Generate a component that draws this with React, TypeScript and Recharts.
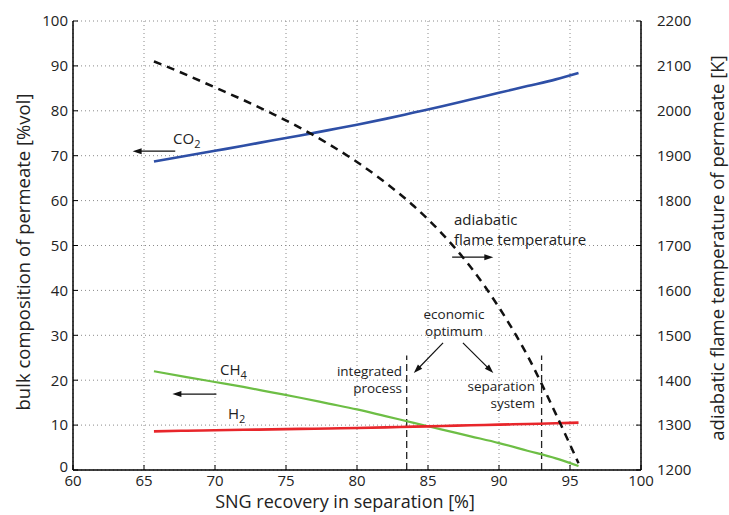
import React from 'react';
import { LineChart, Line, XAxis, YAxis, CartesianGrid, ReferenceLine } from 'recharts';

// SNG recovery in separation [%]
const recovery = [65.7, 68, 70, 72, 74, 76, 78, 80, 82, 84, 86, 88, 90, 92, 94, 95.6];
// bulk composition of permeate [%vol]
const co2 = [68.7, 70.0, 71.1, 72.2, 73.4, 74.5, 75.7, 76.9, 78.2, 79.6, 81.0, 82.5, 84.0, 85.5, 87.0, 88.4];
const ch4 = [22.0, 20.7, 19.6, 18.5, 17.3, 16.1, 14.8, 13.5, 12.0, 10.5, 9.0, 7.5, 6.0, 4.3, 2.6, 0.9];
const h2 = [8.6, 8.75, 8.85, 8.95, 9.05, 9.15, 9.25, 9.35, 9.5, 9.65, 9.8, 9.95, 10.1, 10.25, 10.4, 10.55];
// adiabatic flame temperature of permeate [K]
const flameTemp = [2110, 2080, 2052, 2024, 1994, 1962, 1926, 1886, 1840, 1788, 1726, 1652, 1562, 1455, 1325, 1215];

const xTicks = [60, 65, 70, 75, 80, 85, 90, 95, 100];
const compTicks = [0, 10, 20, 30, 40, 50, 60, 70, 80, 90, 100];
const tempTicks = [1200, 1300, 1400, 1500, 1600, 1700, 1800, 1900, 2000, 2100, 2200];

// economic optimum recoveries (vertical dashed markers), height in %vol
const optimumRecovery = [83.5, 93.0];
const optimumMarkerTop = 25.5;

// annotation arrows in data units (recovery, %vol)
const arrowFromX = [67.2, 70.1, 86.7, 86.06, 87.46];
const arrowFromY = [71.0, 16.9, 47.4, 28.3, 28.3];
const arrowToX = [64.2, 67.0, 89.6, 84.0, 89.6];
const arrowToY = [71.0, 16.9, 47.4, 21.6, 21.6];

const data = recovery.map((r, i) => ({
  recovery: r,
  co2: co2[i],
  ch4: ch4[i],
  h2: h2[i],
  flameTemp: flameTemp[i],
}));

const FONT = '"Open Sans", "DejaVu Sans", sans-serif';
const TICK_FS = 15;
const TICK_LEN = 5;
const BOTTOM_MARGIN = 5;

const ArrowShape = (p: any) => {
  const { x1, y1, x2, y2 } = p;
  const dx = x2 - x1;
  const dy = y2 - y1;
  const len = Math.hypot(dx, dy) || 1;
  const ux = dx / len;
  const uy = dy / len;
  const L = 9;
  const W = 3;
  const bx = x2 - ux * L;
  const by = y2 - uy * L;
  const pts = `${x2},${y2} ${bx - uy * W},${by + ux * W} ${bx + uy * W},${by - ux * W}`;
  return (
    <g>
      <line x1={x1} y1={y1} x2={bx + ux * 2} y2={by + uy * 2} stroke="#111" strokeWidth={1.2} />
      <polygon points={pts} fill="#111" />
    </g>
  );
};

const LeftTick = (p: any) => {
  const { x, y, payload } = p;
  const ty = payload.value === 0 ? y - 3 : y;
  return (
    <g>
      <text x={x} y={ty} dy="0.355em" textAnchor="end" fontSize={TICK_FS} fill="#222" fontFamily={FONT}>
        {payload.value}
      </text>
      <line x1={x + 5} x2={x + 5 + TICK_LEN} y1={y} y2={y} stroke="#000" strokeWidth={1} />
    </g>
  );
};

const RightTick = (p: any) => {
  const { x, y, payload } = p;
  return (
    <g>
      <text x={x} y={y} dy="0.355em" textAnchor="start" fontSize={TICK_FS} fill="#222" fontFamily={FONT}>
        {payload.value}
      </text>
      <line x1={x - 16} x2={x - 16 - TICK_LEN} y1={y} y2={y} stroke="#000" strokeWidth={1} />
    </g>
  );
};

const BottomTick = (p: any) => {
  const { x, y, payload } = p;
  return (
    <g>
      <text x={x} y={y} dy="0.71em" textAnchor="middle" fontSize={TICK_FS} fill="#222" fontFamily={FONT}>
        {payload.value}
      </text>
      <line x1={x} x2={x} y1={y - BOTTOM_MARGIN} y2={y - BOTTOM_MARGIN - TICK_LEN} stroke="#000" strokeWidth={1} />
    </g>
  );
};

const TopTick = (p: any) => {
  const { x, y } = p;
  return <line x1={x} x2={x} y1={y} y2={y + TICK_LEN} stroke="#000" strokeWidth={1} />;
};

export default function App() {
  return (
    <div style={{ position: 'absolute', left: 0, top: 0, width: 729, height: 515, background: '#fff' }}>
      <LineChart
        width={729}
        height={515}
        data={data}
        margin={{ top: 21, right: 38, bottom: 15, left: 28 }}
      >
        <CartesianGrid yAxisId="left" stroke="#8a8a8a" strokeDasharray="1 3" strokeWidth={1} />
        <XAxis
          dataKey="recovery"
          type="number"
          domain={[60, 100]}
          ticks={xTicks}
          height={30}
          tickSize={0}
          tickMargin={BOTTOM_MARGIN}
          tick={BottomTick}
          axisLine={{ stroke: '#000', strokeWidth: 1.5 }}
          tickLine={false}
          allowDataOverflow
        />
        <XAxis
          xAxisId="top"
          orientation="top"
          dataKey="recovery"
          type="number"
          domain={[60, 100]}
          ticks={xTicks}
          height={0}
          tickSize={0}
          tickMargin={0}
          tick={TopTick}
          axisLine={{ stroke: '#000', strokeWidth: 1.5 }}
          tickLine={false}
          allowDataOverflow
        />
        <YAxis
          yAxisId="left"
          domain={[0, 100]}
          ticks={compTicks}
          width={45}
          tickSize={0}
          tickMargin={5}
          tick={LeftTick}
          axisLine={{ stroke: '#000', strokeWidth: 1.5 }}
          tickLine={false}
          allowDataOverflow
        />
        <YAxis
          yAxisId="right"
          orientation="right"
          domain={[1200, 2200]}
          ticks={tempTicks}
          width={50}
          tickSize={0}
          tickMargin={16}
          tick={RightTick}
          axisLine={{ stroke: '#000', strokeWidth: 1.5 }}
          tickLine={false}
          allowDataOverflow
        />
        {optimumRecovery.map((x) => (
          <ReferenceLine
            key={'opt' + x}
            yAxisId="left"
            segment={[{ x, y: 0 }, { x, y: optimumMarkerTop }]}
            stroke="#222"
            strokeWidth={1.3}
            strokeDasharray="7 4"
          />
        ))}
        {arrowFromX.map((fx, i) => (
          <ReferenceLine
            key={'arr' + i}
            yAxisId="left"
            segment={[{ x: fx, y: arrowFromY[i] }, { x: arrowToX[i], y: arrowToY[i] }]}
            shape={ArrowShape}
          />
        ))}
        <Line yAxisId="left" type="monotone" dataKey="co2" stroke="#2E4FA6" strokeWidth={2.6} dot={false} isAnimationActive={false} />
        <Line yAxisId="left" type="monotone" dataKey="ch4" stroke="#6DBE45" strokeWidth={2.2} dot={false} isAnimationActive={false} />
        <Line yAxisId="left" type="monotone" dataKey="h2" stroke="#E8262B" strokeWidth={2.6} dot={false} isAnimationActive={false} />
        <Line yAxisId="right" type="monotone" dataKey="flameTemp" stroke="#111" strokeWidth={2.5} strokeDasharray="8 6" dot={false} isAnimationActive={false} />
      </LineChart>
      <svg
        width={729}
        height={515}
        style={{ position: 'absolute', left: 0, top: 0, pointerEvents: 'none' }}
        fontFamily={FONT}
        fill="#222"
      >
        <text x={22} y={252} fontSize={18.5} textAnchor="middle" dominantBaseline="central" transform="rotate(-90 22 252)">
          bulk composition of permeate [%vol]
        </text>
        <text x={716} y={248} fontSize={18.5} textAnchor="middle" dominantBaseline="central" transform="rotate(-90 716 248)">
          adiabatic flame temperature of permeate [K]
        </text>
        <text x={345} y={508} fontSize={18} textAnchor="middle">
          SNG recovery in separation [%]
        </text>

        <text x={173} y={144} fontSize={15}>
          CO<tspan dy={4} fontSize={11}>2</tspan>
        </text>
        <text x={220} y={375} fontSize={15}>
          CH<tspan dy={4} fontSize={11}>4</tspan>
        </text>
        <text x={228} y={419} fontSize={15}>
          H<tspan dy={4} fontSize={11}>2</tspan>
        </text>

        <text x={454} y={225} fontSize={15}>adiabatic</text>
        <text x={454} y={245} fontSize={15}>flame temperature</text>

        <text x={454} y={319} fontSize={13.5} textAnchor="middle">economic</text>
        <text x={454} y={336} fontSize={13.5} textAnchor="middle">optimum</text>
        <text x={402} y={376} fontSize={13.5} textAnchor="end">integrated</text>
        <text x={402} y={393} fontSize={13.5} textAnchor="end">process</text>
        <text x={535} y={391} fontSize={13.5} textAnchor="end">separation</text>
        <text x={535} y={408} fontSize={13.5} textAnchor="end">system</text>
      </svg>
    </div>
  );
}
